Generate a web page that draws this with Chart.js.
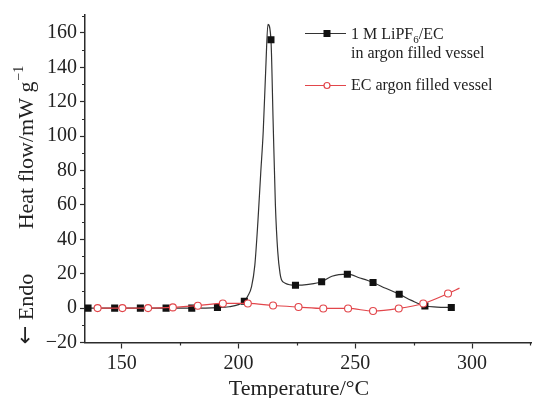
<!DOCTYPE html>
<html>
<head>
<meta charset="utf-8">
<script src="https://cdn.jsdelivr.net/npm/chart.js@4.4.1/dist/chart.umd.min.js"></script>
<style>
  html, body { margin: 0; padding: 0; background: #fff; }
  #wrap { width: 537px; height: 398px; }
</style>
</head>
<body>
<div id="wrap"><canvas id="dsc"></canvas></div>
<script>
// 1 M LiPF6/EC in argon filled vessel - trace
const lipfCurveTemp = [135.6, 147, 158, 169, 180, 191, 196, 200, 202.5, 204, 205.6, 207, 208.3, 209.5, 210.6, 211.7, 212.6, 213.9, 214.8, 215.8, 216.8, 217.8, 218.4, 220, 224.4, 230, 235.6, 240, 246.6, 252, 257.6, 263, 268.8, 274, 279.8, 285, 291.1];
const lipfCurveFlow = [0, 0, 0, 0, 0, 0.3, 0.8, 2, 4, 7, 12.5, 25, 50, 78, 103, 140, 165, 156, 110, 60, 33, 20, 16.5, 14.5, 13.3, 13.8, 15.3, 18.5, 19.7, 17.5, 14.9, 11.5, 8.1, 4.5, 1.2, 0.6, 0.4];
// its square markers
const lipfMarkTemp = [135.6, 147, 158, 169, 180, 191, 202.5, 213.9, 224.4, 235.6, 246.6, 257.6, 268.8, 279.8, 291.1];
const lipfMarkFlow = [0, 0, 0, 0, 0, 0.3, 4, 156, 13.3, 15.3, 19.7, 14.9, 8.1, 1.2, 0.4];

// EC argon filled vessel (last point has no marker)
const ecTemp = [139.7, 150.3, 161.3, 171.9, 182.6, 193.3, 204, 214.8, 225.7, 236.3, 246.9, 257.6, 268.6, 279.1, 289.7, 294.6];
const ecFlow = [0, 0, 0, 0.4, 1.4, 2.7, 2.7, 1.5, 0.6, -0.2, -0.2, -1.7, -0.2, 2.7, 8.5, 11.6];

const xTicks = [150, 200, 250, 300];
const xMinor = [175, 225, 275, 325];
const yTicks = [-20, 0, 20, 40, 60, 80, 100, 120, 140, 160];
const yMinor = [-10, 10, 30, 50, 70, 90, 110, 130, 150, 170];

const axisColor = '#2b2b2b';
const textColor = '#222';
const serif = '"Liberation Serif", "Times New Roman", serif';
const black = '#333';
const red = '#e2464b';

const pts = (xs, ys) => xs.map((v, i) => ({ x: v, y: ys[i] }));

const annotate = {
    id: 'annotate',
    afterDraw: function (chart) {
        const ctx = chart.ctx,
            x = chart.scales.x,
            y = chart.scales.y;

        ctx.save();
        // minor ticks
        ctx.strokeStyle = axisColor;
        ctx.lineWidth = 1.2;
        ctx.beginPath();
        xMinor.forEach(function (v) {
            const px = Math.round(x.getPixelForValue(v)) + 0.5;
            ctx.moveTo(px, x.top);
            ctx.lineTo(px, x.top + 3);
        });
        yMinor.forEach(function (v) {
            const py = Math.round(y.getPixelForValue(v)) + 0.5;
            ctx.moveTo(y.right, py);
            ctx.lineTo(y.right - 3, py);
        });
        ctx.stroke();

        ctx.fillStyle = textColor;

        // x title
        ctx.font = '22px ' + serif;
        ctx.textAlign = 'center';
        ctx.textBaseline = 'alphabetic';
        ctx.fillText('Temperature/°C', 299, 395);

        // y titles (rotated)
        ctx.save();
        ctx.translate(33, 148);
        ctx.rotate(-Math.PI / 2);
        ctx.font = '22px ' + serif;
        const main = 'Heat flow/mW g';
        const w1 = ctx.measureText(main).width;
        ctx.font = '14px ' + serif;
        const w2 = ctx.measureText('\u22121').width;
        ctx.textAlign = 'left';
        ctx.font = '22px ' + serif;
        ctx.fillText(main, -(w1 + w2) / 2, 0);
        ctx.font = '14px ' + serif;
        ctx.fillText('\u22121', -(w1 + w2) / 2 + w1 + 1, -10);
        ctx.restore();

        ctx.save();
        ctx.translate(33, 309);
        ctx.rotate(-Math.PI / 2);
        ctx.textAlign = 'left';
        ctx.font = '22px "DejaVu Sans", sans-serif';
        const wa = ctx.measureText('\u2190').width;
        ctx.font = '22px ' + serif;
        const we = ctx.measureText(' Endo').width;
        ctx.font = '22px "DejaVu Sans", sans-serif';
        ctx.fillText('\u2190', -(wa + we) / 2, -1);
        ctx.font = '22px ' + serif;
        ctx.fillText(' Endo', -(wa + we) / 2 + wa, 0);
        ctx.restore();

        // legend
        ctx.lineWidth = 1.2;
        ctx.strokeStyle = black;
        ctx.beginPath();
        ctx.moveTo(305, 33.5);
        ctx.lineTo(346, 33.5);
        ctx.stroke();
        ctx.fillStyle = '#111';
        ctx.fillRect(323.5, 30, 7, 7);

        ctx.strokeStyle = red;
        ctx.beginPath();
        ctx.moveTo(305, 85.5);
        ctx.lineTo(346, 85.5);
        ctx.stroke();
        ctx.fillStyle = '#fff';
        ctx.beginPath();
        ctx.arc(327, 85.5, 3, 0, Math.PI * 2);
        ctx.fill();
        ctx.stroke();

        ctx.fillStyle = textColor;
        ctx.textAlign = 'left';
        ctx.font = '16px ' + serif;
        let tx = 351;
        ctx.fillText('1 M LiPF', tx, 39);
        tx += ctx.measureText('1 M LiPF').width;
        ctx.font = '11px ' + serif;
        ctx.fillText('6', tx, 43);
        tx += ctx.measureText('6').width;
        ctx.font = '16px ' + serif;
        ctx.fillText('/EC', tx, 39);
        ctx.fillText('in argon filled vessel', 351, 58);
        ctx.fillText('EC argon filled vessel', 351, 90);
        ctx.restore();
    }
};

new Chart(document.getElementById('dsc'), {
    type: 'line',
    data: {
        datasets: [{
            label: 'EC argon filled vessel',
            data: pts(ecTemp, ecFlow),
            borderColor: red,
            borderWidth: 1.2,
            backgroundColor: '#fff',
            pointBackgroundColor: '#fff',
            pointBorderColor: red,
            pointBorderWidth: 1.1,
            pointRadius: function (c) {
                return c.dataIndex === ecTemp.length - 1 ? 0 : 3.5;
            },
            tension: 0.2,
            cubicInterpolationMode: 'monotone',
            order: 0
        }, {
            label: '1 M LiPF6/EC markers',
            data: pts(lipfMarkTemp, lipfMarkFlow),
            showLine: false,
            pointStyle: 'rect',
            pointRadius: 5,
            pointBackgroundColor: '#111',
            pointBorderColor: '#111',
            pointBorderWidth: 0,
            order: 1
        }, {
            label: '1 M LiPF6/EC in argon filled vessel',
            data: pts(lipfCurveTemp, lipfCurveFlow),
            borderColor: black,
            borderWidth: 1.2,
            pointRadius: 0,
            cubicInterpolationMode: 'monotone',
            order: 2
        }]
    },
    options: {
        responsive: true,
        maintainAspectRatio: false,
        animation: false,
        layout: { padding: { top: 14, right: 0, left: 0, bottom: 0 } },
        plugins: {
            legend: { display: false },
            tooltip: { enabled: false }
        },
        scales: {
            x: {
                type: 'linear',
                min: 134.3,
                max: 325.6,
                afterFit: function (s) { s.height = 55.5; },
                afterBuildTicks: function (s) { s.ticks = xTicks.map(v => ({ value: v })); },
                border: { color: axisColor, width: 1.5 },
                grid: { drawOnChartArea: false, drawTicks: true, tickLength: 6, tickColor: axisColor, tickWidth: 1.2 },
                ticks: {
                    color: textColor,
                    padding: 3,
                    maxRotation: 0,
                    font: { family: serif, size: 20 }
                }
            },
            y: {
                min: -20,
                max: 170.4,
                afterFit: function (s) { s.width = 85; },
                afterBuildTicks: function (s) { s.ticks = yTicks.map(v => ({ value: v })); },
                border: { color: axisColor, width: 1.5 },
                grid: { drawOnChartArea: false, drawTicks: true, tickLength: 5, tickColor: axisColor, tickWidth: 1.2 },
                ticks: {
                    color: textColor,
                    padding: 3,
                    font: { family: serif, size: 20 },
                    callback: function (v) { return String(v).replace('-', '\u2212'); }
                }
            }
        }
    },
    plugins: [annotate]
});
</script>
</body>
</html>
